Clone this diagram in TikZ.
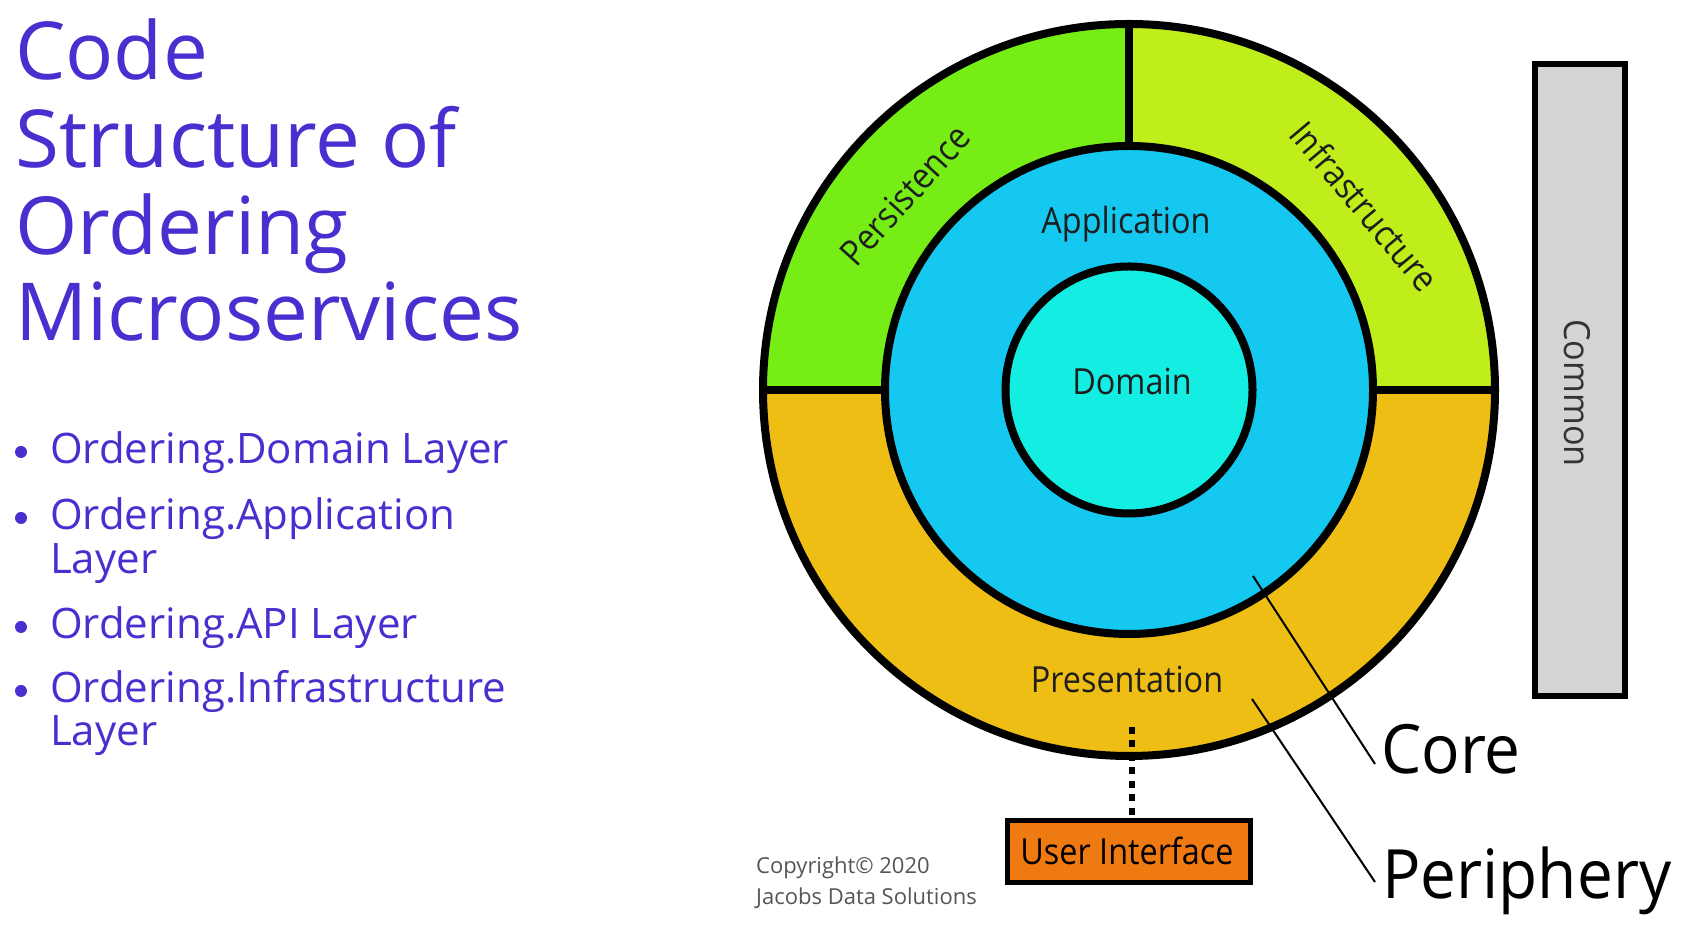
\documentclass[tikz,border=0pt]{standalone}
\usepackage{fontspec}
\usetikzlibrary{calc}
\setmainfont{Open Sans}
\newfontfamily\diagfont[FakeStretch=0.9]{Open Sans}
\newfontfamily\colfont[FakeStretch=0.95]{Open Sans}
\newfontfamily\bigfont[FakeStretch=0.94]{Open Sans}
\definecolor{titlepurple}{HTML}{4B2ED0}
\definecolor{ringgold}{HTML}{EFBE14}
\definecolor{persistgreen}{HTML}{76EE16}
\definecolor{infragreen}{HTML}{C0EE1A}
\definecolor{appblue}{HTML}{14C8F0}
\definecolor{domcyan}{HTML}{14EEE2}
\definecolor{commongray}{HTML}{D4D4D4}
\definecolor{uiorange}{HTML}{F07A12}
\definecolor{labeltext}{HTML}{1E1E1E}
\definecolor{notegray}{HTML}{555555}
\begin{document}
\begin{tikzpicture}[x=1pt,y=1pt,
  titleline/.style={anchor=base west,inner sep=0,text=titlepurple,
    font=\fontsize{80}{87}\selectfont},
  bulletline/.style={anchor=base west,inner sep=0,text=titlepurple,
    font=\fontsize{42}{44}\selectfont},
  bulletdot/.style={circle,fill=titlepurple,inner sep=0,minimum size=12},
  ringlabel/.style={inner sep=0,text=labeltext,
    font=\diagfont\fontsize{36}{40}\selectfont},
  ringline/.style={line width=8,draw=black},
  leader/.style={line width=2,black},
  biglabel/.style={anchor=base west,inner sep=0,text=black,
    font=\bigfont\fontsize{68}{72}\selectfont},
  notetext/.style={anchor=base west,inner sep=0,text=notegray,
    font=\fontsize{22}{26}\selectfont}]
\useasboundingbox[fill=white] (0,0) rectangle (1682,936);

% ---- title and bullet list ----
\node[titleline] (t1) at (15,856) {Code};
\node[titleline] (t2) at (15,768) {Structure of};
\node[titleline] (t3) at (15,681) {Ordering};
\node[titleline] (t4) at (15,595) {Microservices};

\node[bulletdot] (d1) at (21,484) {};
\node[bulletline] (b1) at (50,472) {Ordering.Domain Layer};
\node[bulletdot] (d2) at (21,418) {};
\node[bulletline] (b2) at (50,406) {Ordering.Application};
\node[bulletline] (b2b) at (50,362) {Layer};
\node[bulletdot] (d3) at (21,309) {};
\node[bulletline] (b3) at (50,297) {Ordering.API Layer};
\node[bulletdot] (d4) at (21,245) {};
\node[bulletline] (b4) at (50,233) {Ordering.Infrastructure};
\node[bulletline] (b4b) at (50,190) {Layer};

% ---- onion rings ----
\coordinate (c) at (1129,546);
\fill[ringgold] (c) circle (366);
\fill[persistgreen] (c) -- ++(180:366) arc[start angle=180,end angle=90,radius=366] -- cycle;
\fill[infragreen] (c) -- ++(90:366) arc[start angle=90,end angle=0,radius=366] -- cycle;
\draw[ringline] (c) circle (366);
\draw[ringline] ($(c)+(-366,0)$) -- ($(c)+(-244,0)$);
\draw[ringline] ($(c)+(366,0)$) -- ($(c)+(244,0)$);
\draw[ringline] ($(c)+(0,366)$) -- ($(c)+(0,244)$);
\filldraw[fill=appblue,ringline] (c) circle (244);
\filldraw[fill=domcyan,ringline] (c) circle (123.5);

\node[ringlabel,rotate=48] (persist) at (905,741) {Persistence};
\node[ringlabel,rotate=-50] (infra) at (1365,730) {Infrastructure};
\node[ringlabel,anchor=base] (app) at (1126,702) {Application};
\node[ringlabel,anchor=base] (dom) at (1132,541) {Domain};
\node[ringlabel,anchor=base] (pres) at (1127,243) {Presentation};

% ---- common column ----
\node[draw=black,line width=6,fill=commongray,minimum width=90,minimum height=632,
  inner sep=0] (common) at (1580,556) {};
\node[inner sep=0,rotate=-90,text=black!80,font=\colfont\fontsize{36}{40}\selectfont]
  (commontext) at (1577,543) {Common};

% ---- user interface box and its link to the rings ----
\node[draw=black,line width=5,fill=uiorange,minimum width=243,minimum height=62,
  inner sep=0] (ui) at (1129,84.5) {};
\node[ringlabel,anchor=base,text=black] (uitext) at (1127,71) {User Interface};
\coordinate (dotstart) at (1132,209);
\draw[line width=6,dash pattern=on 7 off 6.5] (dotstart) -- (dotstart |- ui.north);

% ---- core / periphery callouts ----
\node[biglabel] (core) at (1381,162) {Core};
\node[biglabel] (periph) at (1382,37) {Periphery};
\coordinate (corein) at (1253,360);
\coordinate (coreout) at (1375,172);
\coordinate (periin) at (1252,237);
\coordinate (periout) at (1375,54);
\draw[leader] (corein) -- (coreout);
\draw[leader] (periin) -- (periout);

% ---- copyright note ----
\node[notetext] (copy1) at (756,62) {Copyright© 2020};
\node[notetext] (copy2) at (756,31) {Jacobs Data Solutions};
\end{tikzpicture}
\end{document}
